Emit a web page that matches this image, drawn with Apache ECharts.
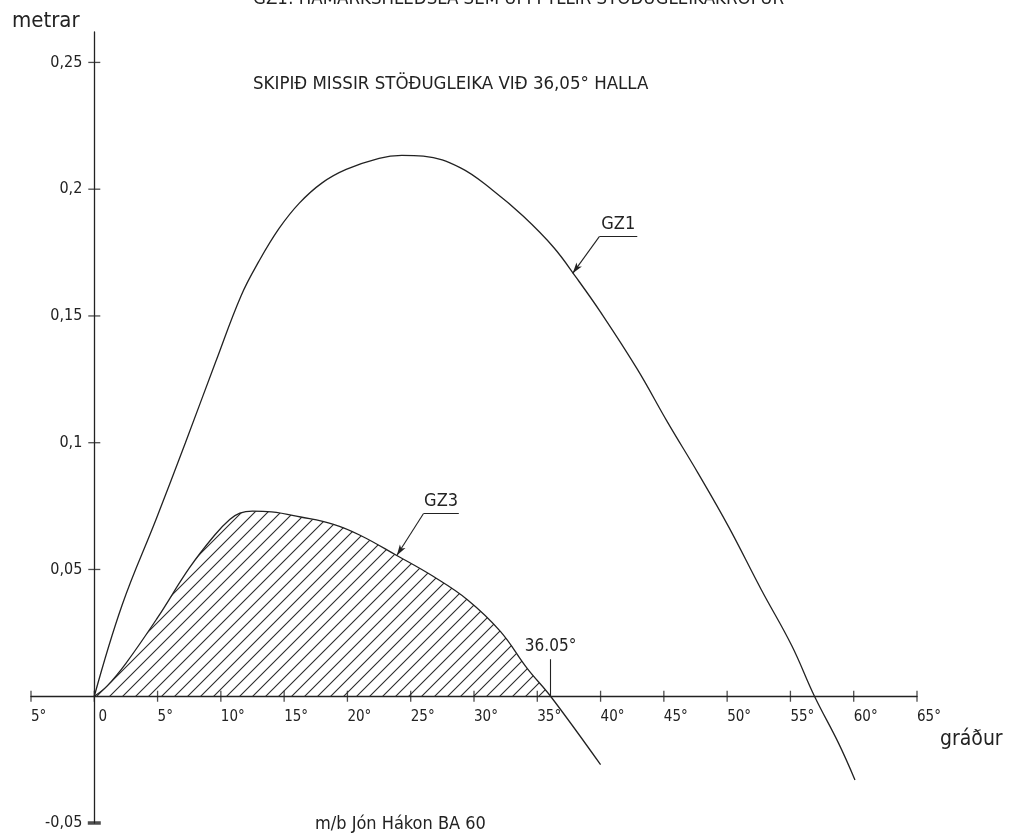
<!DOCTYPE html>
<html>
<head>
<meta charset="utf-8">
<script src="https://cdn.jsdelivr.net/npm/echarts@6/dist/echarts.min.js"></script>
<style>
  html, body { margin: 0; padding: 0; background: #fff; }
  #chart { width: 1016px; height: 835px; }
</style>
</head>
<body>
<div id="chart"></div>
<script>
// GZ1 - [halli í gráðum, armur í metrum]
var gz1 = [
  [0, 0], [2.2, 0.036], [4.9, 0.07], [7.2, 0.1], [9.6, 0.132], [11.6, 0.158],
  [13, 0.1715], [14.6, 0.1845], [16.2, 0.1945], [18, 0.2025], [19.9, 0.2078],
  [22.5, 0.2122], [24.3, 0.2133], [26, 0.213], [28.9, 0.2085], [31.5, 0.1995],
  [33.9, 0.1893], [36.3, 0.177], [38.1, 0.165], [40, 0.1515], [42.9, 0.129],
  [45.3, 0.108], [47.7, 0.088], [50.1, 0.067], [52.7, 0.042], [55.1, 0.02],
  [56.9, 0], [58.8, -0.0185], [60.1, -0.033]
];
// GZ3
var gz3 = [
  [0, 0], [1, 0.004], [2.5, 0.013], [5, 0.031], [7.5, 0.0505], [9.5, 0.0635],
  [10.7, 0.0697], [11.5, 0.0722], [12.5, 0.073], [14, 0.0727], [16.3, 0.0707],
  [18.9, 0.0678], [21, 0.0635], [23.9, 0.0555], [26.8, 0.0472], [29.5, 0.038],
  [32.1, 0.0255], [34.2, 0.011], [36.05, 0], [40, -0.027]
];
var xTickValues = [-5, 0, 5, 10, 15, 20, 25, 30, 35, 40, 45, 50, 55, 60, 65];
var yTickValues = [-0.05, 0.05, 0.1, 0.15, 0.2, 0.25];
var lossAngle = 36.05;

var xMin = -5, xMax = 65, yMin = -0.05, yMax = 0.262;
var W = 1016, H = 835;
var grid = { left: 31, right: 99, top: 32, bottom: 12 };

var ink = '#222';
var font = "'DejaVu Sans Condensed', 'DejaVu Sans', sans-serif";

// ásarnir liggja í núlli: hliðrun frá brún grindar
var xAxisShift = (0 - yMin) / (yMax - yMin) * (H - grid.top - grid.bottom);
var yAxisShift = (0 - xMin) / (xMax - xMin) * (W - grid.left - grid.right);

function hatch(size) {
  var c = document.createElement('canvas');
  c.width = size; c.height = size;
  var g = c.getContext('2d');
  g.strokeStyle = '#2a2a2a';
  g.lineWidth = 1.1;
  g.beginPath();
  g.moveTo(0, size); g.lineTo(size, 0);
  g.moveTo(-2, 2); g.lineTo(2, -2);
  g.moveTo(size - 2, size + 2); g.lineTo(size + 2, size - 2);
  g.stroke();
  return c;
}

function xLabel(v) {
  if (v === 0) return ' 0';
  return Math.abs(v) + '°';
}
function yLabel(v) {
  return String(v).replace('.', ',');
}

var axisLineStyle = { color: ink, width: 1.3 };

var chartDom = document.getElementById('chart');
var myChart = echarts.init(chartDom);
var option = {
  animation: false,
  backgroundColor: '#fff',
  textStyle: { fontFamily: font, color: ink },
  grid: { left: grid.left, right: grid.right, top: grid.top, bottom: grid.bottom, containLabel: false, outerBoundsMode: 'none' },
  xAxis: {
    type: 'value', min: xMin, max: xMax, interval: 5,
    position: 'bottom', offset: -xAxisShift,
    axisLine: { onZero: false, lineStyle: axisLineStyle },
    axisTick: { show: false },
    axisLabel: {
      formatter: xLabel, align: 'left', margin: 13,
      fontSize: 15, color: ink, fontFamily: font
    },
    splitLine: { show: false }
  },
  yAxis: {
    type: 'value', min: yMin, max: yMax,
    position: 'left', offset: -yAxisShift,
    axisLine: { onZero: false, lineStyle: axisLineStyle },
    axisTick: { show: false, customValues: yTickValues },
    axisLabel: {
      customValues: yTickValues, formatter: yLabel, margin: 12,
      fontSize: 16, color: ink, fontFamily: font
    },
    splitLine: { show: false }
  },
  graphic: [
    { type: 'text', x: 253, y: -1, style: { text: 'GZ1: HÁMARKSHLEÐSLA SEM UPPFYLLIR STÖÐUGLEIKAKRÖFUR', font: '18.5px ' + font, fill: ink, verticalAlign: 'middle' } },
    { type: 'text', x: 12, y: 21, style: { text: 'metrar', font: '22px ' + font, fill: ink, verticalAlign: 'middle' } },
    { type: 'text', x: 253, y: 84, style: { text: 'SKIPIÐ MISSIR STÖÐUGLEIKA VIÐ 36,05° HALLA', font: '18.5px ' + font, fill: ink, verticalAlign: 'middle' } },
    { type: 'text', x: 940, y: 740, style: { text: 'gráður', font: '21px ' + font, fill: ink, verticalAlign: 'middle' } },
    { type: 'text', x: 315, y: 824, style: { text: 'm/b Jón Hákon BA 60', font: '18px ' + font, fill: ink, verticalAlign: 'middle' } }
  ],
  series: [
    {
      name: 'GZ3 hatch', type: 'line', smooth: 0.4, symbol: 'none', silent: true,
      data: gz3.filter(function (p) { return p[1] >= 0; }),
      lineStyle: { width: 0 },
      areaStyle: { color: { image: hatch(13), repeat: 'repeat' }, opacity: 1 }
    },
    {
      name: 'GZ1', type: 'line', smooth: 0.4, symbol: 'none', silent: true,
      data: gz1,
      lineStyle: { color: ink, width: 1.3 },
      markLine: {
        silent: true, animation: false,
        symbol: ['none', 'arrow'], symbolSize: [5, 11],
        lineStyle: { color: ink, width: 1.1, type: 'solid' },
        label: { show: false },
        data: [
          [{ coord: [39.9, 0.1813] }, { coord: [37.8, 0.1668] }],
          [
            { coord: [39.9, 0.1813], symbol: 'none',
              label: { show: true, formatter: 'GZ1', position: 'insideMiddleTop', distance: 3, fontSize: 18, color: ink, fontFamily: font } },
            { coord: [42.9, 0.1813], symbol: 'none' }
          ]
        ]
      }
    },
    {
      name: 'GZ3', type: 'line', smooth: 0.4, symbol: 'none', silent: true,
      data: gz3,
      lineStyle: { color: ink, width: 1.3 },
      markLine: {
        silent: true, animation: false,
        symbol: ['none', 'arrow'], symbolSize: [5, 11],
        lineStyle: { color: ink, width: 1.1, type: 'solid' },
        label: { show: false },
        data: [
          [{ coord: [26.0, 0.072] }, { coord: [23.9, 0.0555] }],
          [
            { coord: [26.0, 0.072], symbol: 'none',
              label: { show: true, formatter: 'GZ3', position: 'insideMiddleTop', distance: 3, fontSize: 18, color: ink, fontFamily: font } },
            { coord: [28.8, 0.072], symbol: 'none' }
          ],
          [
            { coord: [lossAngle, 0], symbol: 'none',
              label: { show: true, formatter: '36.05°', position: 'end', distance: 4, fontSize: 17, color: ink, fontFamily: font } },
            { coord: [lossAngle, 0.0146], symbol: 'none' }
          ]
        ]
      }
    },
    {
      // krossmerki á ásum
      name: 'x ticks', type: 'scatter', silent: true, symbol: 'rect', symbolSize: [1.3, 11],
      itemStyle: { color: ink },
      data: xTickValues.map(function (v) { return [v, 0]; })
    },
    {
      name: 'y ticks', type: 'scatter', silent: true, symbol: 'rect',
      symbolSize: function (p) { return p[1] === yTickValues[0] ? [13, 3.5] : [12, 1.3]; },
      itemStyle: { color: ink },
      data: yTickValues.map(function (v) { return [0, v]; })
    }
  ]
};

option && myChart.setOption(option);
</script>
</body>
</html>
